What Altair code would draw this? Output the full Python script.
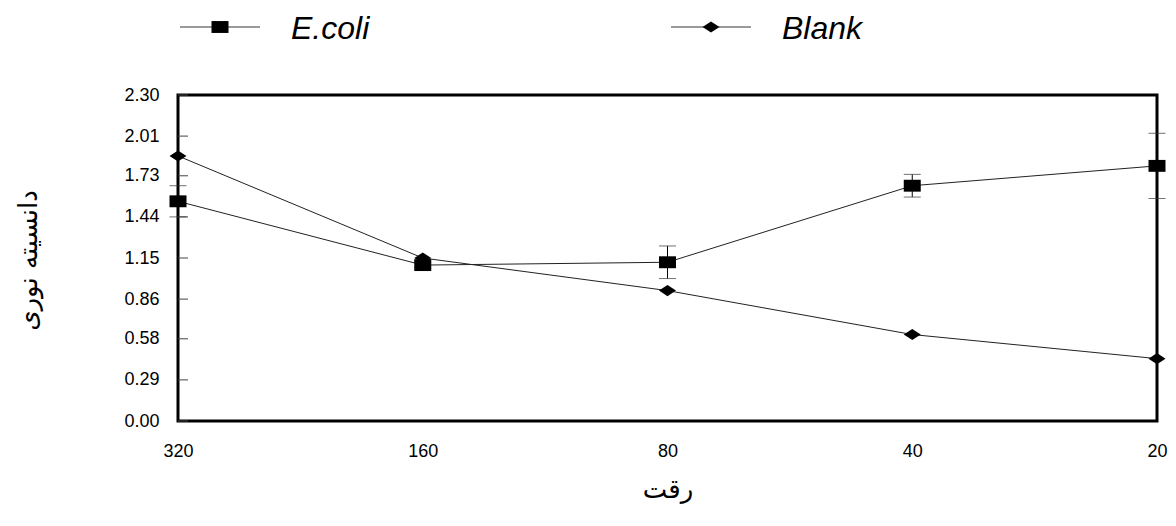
import altair as alt
import pandas as pd

# ---- data ----
dilution = ["320", "160", "80", "40", "20"]
ecoli_mean = [1.55, 1.10, 1.12, 1.66, 1.80]
ecoli_err = [0.11, 0.02, 0.115, 0.08, 0.23]
blank_mean = [1.87, 1.15, 0.92, 0.61, 0.44]
y_ticks = [0.00, 0.29, 0.58, 0.86, 1.15, 1.44, 1.73, 2.01, 2.30]
series = ["E.coli", "Blank"]

RECT = "M-1,-0.7H1V0.7H-1Z"
DIAM = "M-1,0L0,-0.65L1,0L0,0.65Z"

rows = []
for d, m, e in zip(dilution, ecoli_mean, ecoli_err):
    rows.append({"dil": d, "val": m, "lo": m - e, "hi": m + e, "series": "E.coli"})
for d, m in zip(dilution, blank_mean):
    rows.append({"dil": d, "val": m, "lo": m, "hi": m, "series": "Blank"})
df = pd.DataFrame(rows)
ecoli_df = df[df.series == "E.coli"]
tick_df = pd.DataFrame({"t": y_ticks})

Y_TITLE = "دانسیته نوری"
X_TITLE = "رقت"
yscale = alt.Scale(domain=[0, 2.3], nice=False, zero=False)
yaxis = alt.Axis(values=y_ticks, format=".2f", labelPadding=19, titleAngle=-90,
                 titleX=-150, titleY=165, titleBaseline="middle",
                 titleFont="DejaVu Sans", titleFontSize=26, titleFontWeight="normal",
                 titleColor="black")


def X():
    return alt.X("dil:N", sort=dilution, title=X_TITLE,
                 scale=alt.Scale(type="point", padding=0),
                 axis=alt.Axis(labelAngle=0, labelPadding=21, titleY=68,
                               titleBaseline="middle", titleFont="DejaVu Sans",
                               titleFontSize=26, titleFontWeight="normal",
                               titleColor="black"))


def Y(field):
    return alt.Y(field, scale=yscale, axis=yaxis, title=Y_TITLE)


lines = alt.Chart(df).mark_line(color="#222", strokeWidth=1).encode(
    x=X(), y=Y("val:Q"), detail="series:N")

err = alt.Chart(ecoli_df).mark_rule(color="black", strokeWidth=1).encode(
    x=X(), y=Y("lo:Q"), y2="hi:Q")
cap_lo = alt.Chart(ecoli_df).mark_tick(color="#333", size=17, thickness=1,
                                       orient="horizontal").encode(x=X(), y=Y("lo:Q"))
cap_hi = alt.Chart(ecoli_df).mark_tick(color="#333", size=17, thickness=1,
                                       orient="horizontal").encode(x=X(), y=Y("hi:Q"))

points = alt.Chart(df).mark_point(filled=True, size=289, opacity=1, color="black").encode(
    x=X(), y=Y("val:Q"),
    shape=alt.Shape("series:N", scale=alt.Scale(domain=series, range=[RECT, DIAM]),
                    legend=None))

inticks = alt.Chart(tick_df).mark_rule(color="#444", strokeWidth=1).encode(
    y=Y("t:Q"), x=alt.value(0), x2=alt.value(10))

# ---- manual legend above the plot ----
LY = -68


def legend_item(name, shape, x0):
    src = pd.DataFrame({"s": [name]})
    base = alt.Chart(src)
    line = base.mark_rule(color="#777", strokeWidth=1.5).encode(
        x=alt.value(x0), x2=alt.value(x0 + 80), y=alt.value(LY))
    mk = base.mark_point(filled=True, size=289, opacity=1, color="black", shape=shape).encode(
        x=alt.value(x0 + 40), y=alt.value(LY))
    txt = base.mark_text(align="left", baseline="middle", fontStyle="italic",
                         fontSize=32, font="Liberation Sans", color="black").encode(
        x=alt.value(x0 + 111), y=alt.value(LY + 2), text="s:N")
    return line + mk + txt


legend = legend_item("E.coli", RECT, 2) + legend_item("Blank", DIAM, 493)

chart = alt.layer(inticks, lines, err, cap_lo, cap_hi, points, legend).properties(
    width=979, height=326,
    autosize=alt.AutoSizeParams(type="none"),
    padding={"left": 170, "top": 87, "right": 11, "bottom": 95},
).configure_view(stroke="black", strokeWidth=3).configure_axis(
    labelFont="Liberation Sans", labelFontSize=18, labelColor="black",
    grid=False, domain=False, ticks=False)

chart.save("out.html", embed_options={"renderer": "svg", "actions": False})
